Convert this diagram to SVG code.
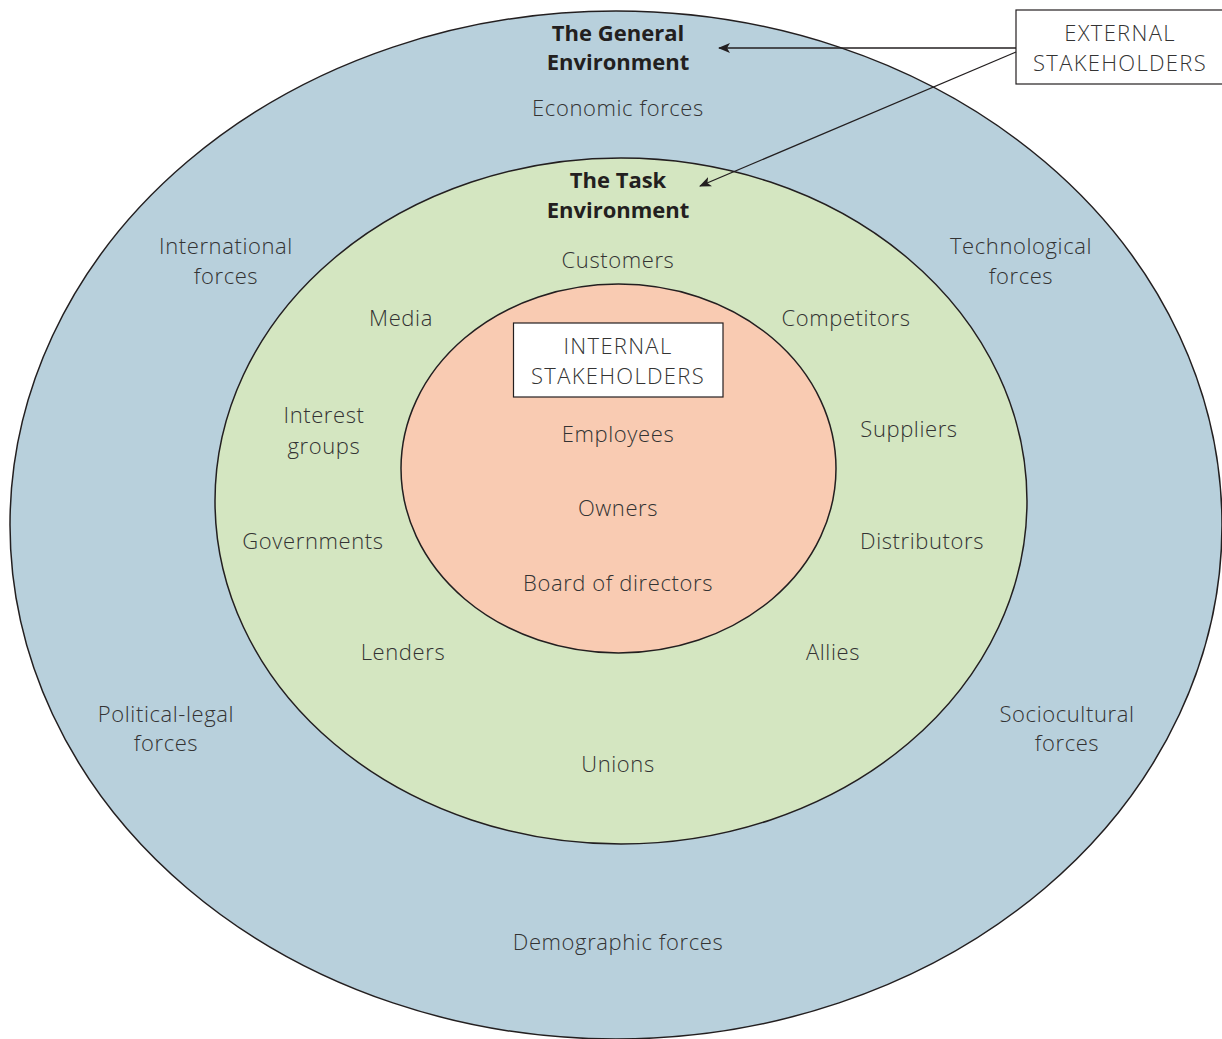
<svg xmlns="http://www.w3.org/2000/svg" width="1222" height="1039" viewBox="0 0 1222 1039">
  <style>
    .ring { stroke: #231f20; stroke-width: 1.5; }
    .lbl { font-family: "Open Sans", "Liberation Sans", sans-serif; font-weight: 300; font-size: 22px; letter-spacing: 0.6px; fill: #333333; text-anchor: middle; dominant-baseline: central; }
    .caps { letter-spacing: 1.3px; }
    .ttl { font-family: "Open Sans", "Liberation Sans", sans-serif; font-weight: 700; font-size: 22px; fill: #231f20; text-anchor: middle; dominant-baseline: central; }
    .box { fill: #ffffff; stroke: #231f20; stroke-width: 1.2; }
    .conn { stroke: #231f20; stroke-width: 1.3; fill: none; marker-end: url(#arrow); }
  </style>
  <defs>
    <marker id="arrow" viewBox="0 0 12 10" refX="11" refY="5" markerWidth="12" markerHeight="10" markerUnits="userSpaceOnUse" orient="auto">
      <path d="M0,0 L12,5 L0,10 L3,5 Z" fill="#231f20"/>
    </marker>
  </defs>

  <rect width="1222" height="1039" fill="#ffffff"/>

  <!-- outer ring: general environment forces -->
  <g id="general-environment" transform="translate(0,-1)">
    <ellipse class="ring" cx="616" cy="526" rx="606" ry="514" fill="#b8d0dc"/>
    <text class="ttl" x="618" y="33">The General</text>
    <text class="ttl" x="618" y="62">Environment</text>
    <text class="lbl" x="618" y="108">Economic forces</text>
    <text class="lbl" x="226" y="246">International</text>
    <text class="lbl" x="226" y="276">forces</text>
    <text class="lbl" x="1021" y="246">Technological</text>
    <text class="lbl" x="1021" y="276">forces</text>
    <text class="lbl" x="166" y="714">Political-legal</text>
    <text class="lbl" x="166" y="743">forces</text>
    <text class="lbl" x="1067" y="714">Sociocultural</text>
    <text class="lbl" x="1067" y="743">forces</text>
    <text class="lbl" x="618" y="942">Demographic forces</text>
  </g>

  <!-- middle ring: task environment -->
  <g id="task-environment" transform="translate(0,-1)">
    <ellipse class="ring" cx="621" cy="502" rx="406" ry="343" fill="#d4e6c1"/>
    <text class="ttl" x="618" y="180">The Task</text>
    <text class="ttl" x="618" y="210">Environment</text>
    <text class="lbl" x="618" y="260">Customers</text>
    <text class="lbl" x="401" y="318">Media</text>
    <text class="lbl" x="846" y="318">Competitors</text>
    <text class="lbl" x="324" y="415">Interest</text>
    <text class="lbl" x="324" y="446">groups</text>
    <text class="lbl" x="909" y="429">Suppliers</text>
    <text class="lbl" x="313" y="541">Governments</text>
    <text class="lbl" x="922" y="541">Distributors</text>
    <text class="lbl" x="403" y="652">Lenders</text>
    <text class="lbl" x="833" y="652">Allies</text>
    <text class="lbl" x="618" y="764">Unions</text>
  </g>

  <!-- inner core -->
  <g id="internal-core" transform="translate(0,-1)">
    <ellipse class="ring" cx="618.5" cy="469.5" rx="217.5" ry="184.5" fill="#f9cbb2"/>
    <text class="lbl" x="618" y="434">Employees</text>
    <text class="lbl" x="618" y="508">Owners</text>
    <text class="lbl" x="618" y="583">Board of directors</text>
  </g>

  <g id="internal-stakeholders">
    <rect class="box" x="513.5" y="323" width="209.5" height="74"/>
    <text class="lbl caps" x="618" y="345">INTERNAL</text>
    <text class="lbl caps" x="618" y="375">STAKEHOLDERS</text>
  </g>

  <g id="external-stakeholders">
    <rect class="box" x="1016" y="10" width="210" height="74"/>
    <text class="lbl caps" x="1120" y="32">EXTERNAL</text>
    <text class="lbl caps" x="1120" y="62">STAKEHOLDERS</text>
  </g>

  <g id="connectors">
    <line class="conn" x1="1016" y1="48" x2="719" y2="48"/>
    <line class="conn" x1="1016" y1="52" x2="700" y2="186"/>
  </g>
</svg>
